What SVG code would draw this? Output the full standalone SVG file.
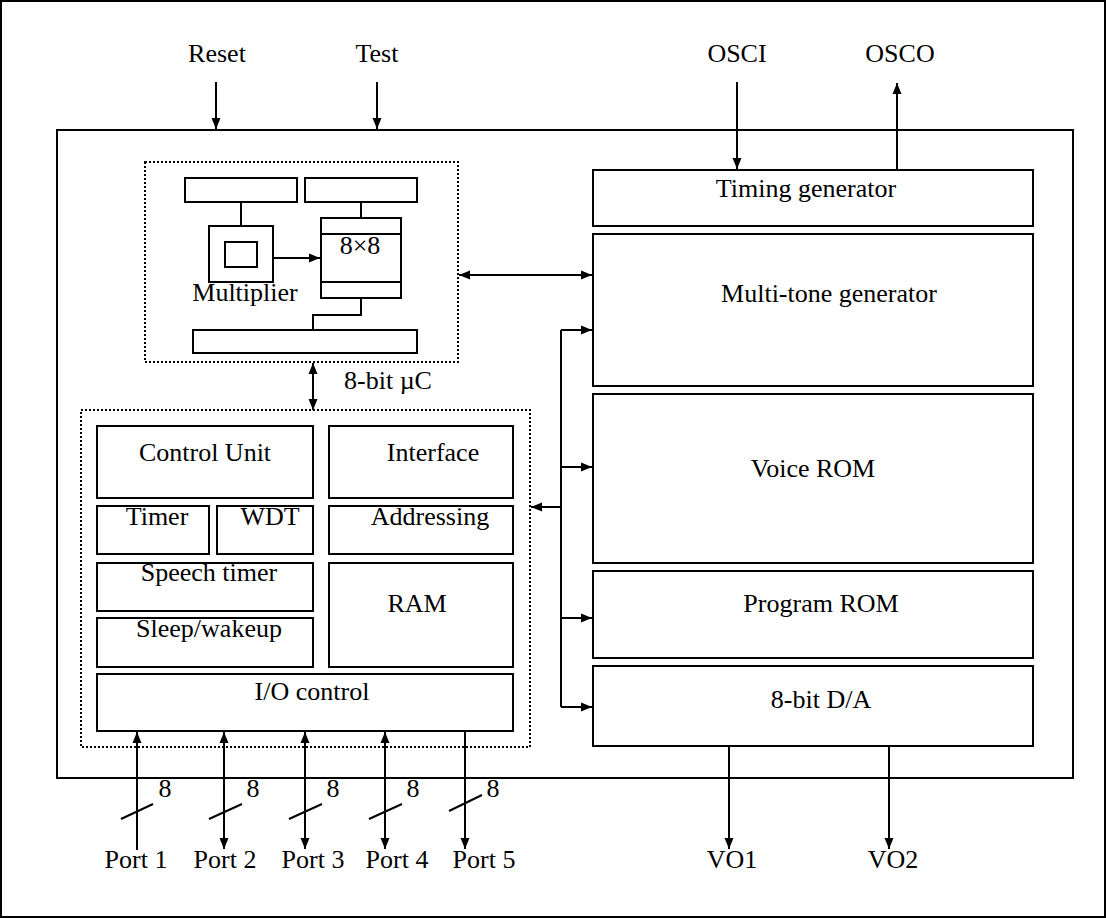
<svg xmlns="http://www.w3.org/2000/svg" width="1106" height="918" viewBox="0 0 1106 918">
<style>
.b{fill:none;stroke:#000;stroke-width:2}
.d{fill:none;stroke:#000;stroke-width:2;stroke-dasharray:2 2}
.c{fill:none;stroke:#000;stroke-width:2}
.t{font-family:"Liberation Serif","Times New Roman",serif;font-size:26px;fill:#000;text-anchor:middle}
</style>
<defs>
<marker id="a" markerUnits="userSpaceOnUse" markerWidth="12" markerHeight="10" refX="11" refY="5" orient="auto-start-reverse"><path d="M0,0.5 L11,5 L0,9.5 z" fill="#000"/></marker>
</defs>
<rect x="0" y="0" width="1106" height="918" fill="#fff"/>
<rect x="1" y="1" width="1104" height="916" class="b"/>
<g id="chip"><rect x="57" y="130" width="1016" height="648" class="b"/></g>

<g id="pins">
<text class="t" x="217" y="62">Reset</text>
<text class="t" x="377" y="62">Test</text>
<text class="t" x="737" y="62">OSCI</text>
<text class="t" x="900" y="62">OSCO</text>
</g>

<g id="mcu_core">
<rect x="145" y="162" width="313" height="200" class="d"/>
<rect x="185" y="178" width="112" height="24" class="b"/>
<rect x="305" y="178" width="112" height="24" class="b"/>
<rect x="209" y="226" width="64" height="56" class="b"/>
<rect x="225" y="242" width="32" height="25" class="b"/>
<rect x="321" y="218" width="80" height="80" class="b"/>
<line x1="321" y1="234" x2="401" y2="234" class="b"/>
<line x1="321" y1="282" x2="401" y2="282" class="b"/>
<rect x="193" y="330" width="224" height="23" class="b"/>
<text class="t" x="360" y="254">8×8</text>
<text class="t" x="245" y="301">Multiplier</text>
<text class="t" x="388" y="389">8-bit µC</text>
</g>

<g id="mcu_periph">
<rect x="81" y="410" width="449" height="337" class="d"/>
<rect x="97" y="426" width="216" height="72" class="b"/>
<text class="t" x="205" y="461">Control Unit</text>
<rect x="329" y="426" width="184" height="72" class="b"/>
<text class="t" x="433" y="461">Interface</text>
<rect x="97" y="506" width="112" height="48" class="b"/>
<text class="t" x="157" y="525">Timer</text>
<rect x="217" y="506" width="96" height="48" class="b"/>
<text class="t" x="270" y="525">WDT</text>
<rect x="329" y="506" width="184" height="48" class="b"/>
<text class="t" x="430" y="525">Addressing</text>
<rect x="97" y="563" width="216" height="48" class="b"/>
<text class="t" x="209" y="581">Speech timer</text>
<rect x="97" y="618" width="216" height="49" class="b"/>
<text class="t" x="209" y="637">Sleep/wakeup</text>
<rect x="329" y="563" width="184" height="104" class="b"/>
<text class="t" x="417" y="612">RAM</text>
<rect x="97" y="674" width="416" height="57" class="b"/>
<text class="t" x="312" y="700">I/O control</text>
</g>

<g id="timing"><rect x="593" y="170" width="440" height="56" class="b"/><text class="t" x="806" y="197">Timing generator</text></g>
<g id="multitone"><rect x="593" y="234" width="440" height="152" class="b"/><text class="t" x="829" y="302">Multi-tone generator</text></g>
<g id="voicerom"><rect x="593" y="394" width="440" height="169" class="b"/><text class="t" x="813" y="477">Voice ROM</text></g>
<g id="progrom"><rect x="593" y="571" width="440" height="87" class="b"/><text class="t" x="821" y="612">Program ROM</text></g>
<g id="dac"><rect x="593" y="666" width="440" height="80" class="b"/><text class="t" x="821" y="708">8-bit D/A</text></g>

<g id="ports">
<text class="t" x="136" y="868">Port 1</text>
<text class="t" x="225" y="868">Port 2</text>
<text class="t" x="313" y="868">Port 3</text>
<text class="t" x="397" y="868">Port 4</text>
<text class="t" x="484" y="868">Port 5</text>
<text class="t" x="165" y="797">8</text>
<text class="t" x="253" y="797">8</text>
<text class="t" x="333" y="797">8</text>
<text class="t" x="413" y="797">8</text>
<text class="t" x="493" y="797">8</text>
<text class="t" x="732" y="868">VO1</text>
<text class="t" x="893" y="868">VO2</text>
</g>

<g id="connectors">
<line x1="216" y1="82" x2="216" y2="129" class="c" marker-end="url(#a)"/>
<line x1="377" y1="82" x2="377" y2="129" class="c" marker-end="url(#a)"/>
<line x1="737" y1="82" x2="737" y2="169" class="c" marker-end="url(#a)"/>
<line x1="897" y1="170" x2="897" y2="83" class="c" marker-end="url(#a)"/>
<line x1="241" y1="202" x2="241" y2="226" class="c"/>
<line x1="361" y1="202" x2="361" y2="218" class="c"/>
<line x1="273" y1="258" x2="320" y2="258" class="c" marker-end="url(#a)"/>
<polyline points="361,298 361,315 313,315 313,330" class="c"/>
<line x1="459" y1="275" x2="592" y2="275" class="c" marker-start="url(#a)" marker-end="url(#a)"/>
<line x1="313" y1="363" x2="313" y2="410" class="c" marker-start="url(#a)" marker-end="url(#a)"/>
<line x1="561" y1="330" x2="561" y2="707" class="c"/>
<line x1="561" y1="330" x2="592" y2="330" class="c" marker-end="url(#a)"/>
<line x1="561" y1="467" x2="592" y2="467" class="c" marker-end="url(#a)"/>
<line x1="561" y1="618" x2="592" y2="618" class="c" marker-end="url(#a)"/>
<line x1="561" y1="707" x2="592" y2="707" class="c" marker-end="url(#a)"/>
<line x1="561" y1="507" x2="531" y2="507" class="c" marker-end="url(#a)"/>
<line x1="137" y1="850" x2="137" y2="732" class="c" marker-end="url(#a)"/>
<line x1="224" y1="732" x2="224" y2="849" class="c" marker-start="url(#a)" marker-end="url(#a)"/>
<line x1="305" y1="732" x2="305" y2="849" class="c" marker-start="url(#a)" marker-end="url(#a)"/>
<line x1="385" y1="732" x2="385" y2="849" class="c" marker-start="url(#a)" marker-end="url(#a)"/>
<line x1="465" y1="731" x2="465" y2="849" class="c" marker-end="url(#a)"/>
<line x1="121" y1="819" x2="153" y2="804" class="c"/>
<line x1="209" y1="819" x2="242" y2="804" class="c"/>
<line x1="289" y1="819" x2="322" y2="804" class="c"/>
<line x1="369" y1="819" x2="402" y2="804" class="c"/>
<line x1="449" y1="811" x2="482" y2="795" class="c"/>
<line x1="729" y1="746" x2="729" y2="849" class="c" marker-end="url(#a)"/>
<line x1="889" y1="746" x2="889" y2="849" class="c" marker-end="url(#a)"/>
</g>
</svg>
